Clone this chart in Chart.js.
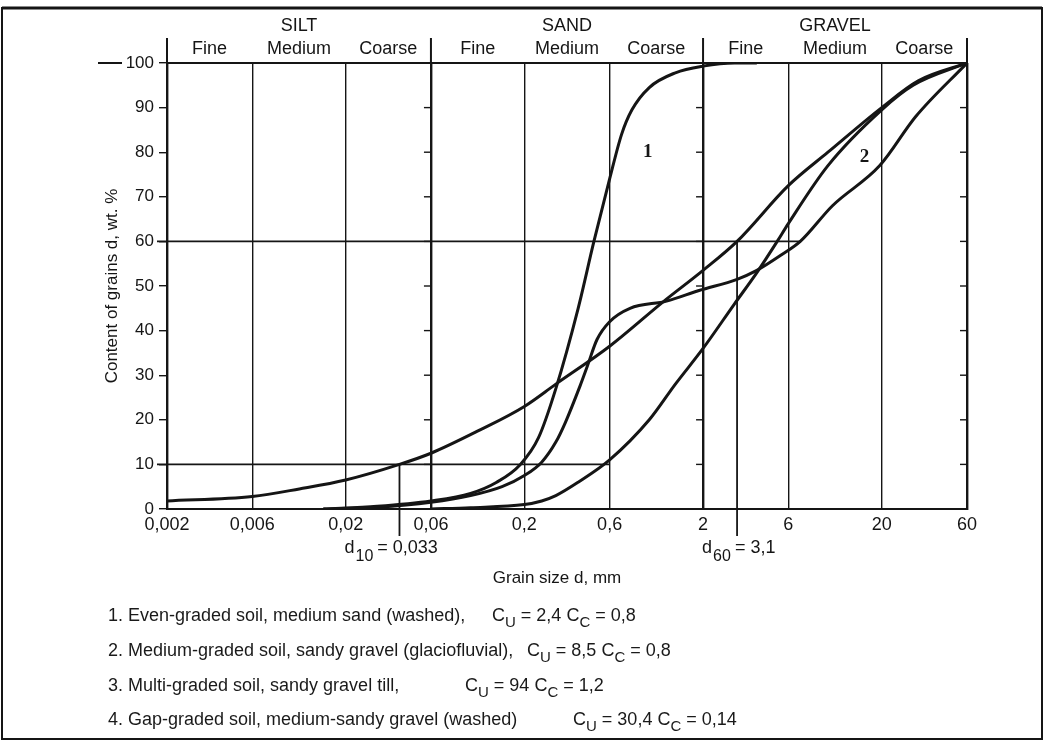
<!DOCTYPE html>
<html>
<head>
<meta charset="utf-8">
<script src="https://cdn.jsdelivr.net/npm/chart.js@4.4.1/dist/chart.umd.min.js"></script>
<style>
  body { margin: 0; background: #fff; }
  .sheet { position: relative; width: 1050px; height: 744px; }
  .notes { position: absolute; left: 0; top: 0; font: 18px 'Liberation Sans', Arial, sans-serif; color: #1a1a1a; }
  .notes div { position: absolute; white-space: nowrap; line-height: 20px; }
  .notes sub { font-size: 15px; vertical-align: -6px; line-height: 0; }
</style>
</head>
<body>
<div class="sheet">
  <canvas id="grading"></canvas>
  <div class="notes" id="notes"></div>
</div>
<script>
// sieve sizes (mm) on the x axis, also the fraction boundaries
const gridSizes = [0.002, 0.006, 0.02, 0.06, 0.2, 0.6, 2, 6, 20, 60];
const mainBounds = [0.002, 0.06, 2, 60];
const soilGroups = ['SILT', 'SAND', 'GRAVEL'];
const fractions = ['Fine', 'Medium', 'Coarse'];
const pctTicks = [0, 10, 20, 30, 40, 50, 60, 70, 80, 90, 100];

// 1. even-graded medium sand
const curve1Size = [0.015, 0.03, 0.06, 0.1, 0.14, 0.19, 0.24, 0.3, 0.4, 0.49, 0.6, 0.7, 0.8, 1, 1.4, 2, 3, 4];
const curve1Pct = [0, 0.6, 1.8, 3.5, 6, 10, 16, 27, 45, 60, 74, 84, 89.5, 94.5, 97.8, 99.3, 100, 100];
// 2. medium-graded sandy gravel
const curve2Size = [0.06, 0.1, 0.2, 0.25, 0.3, 0.4, 0.6, 1, 1.4, 2, 3, 4, 5.2, 6, 10, 20, 30, 60];
const curve2Pct = [0, 0.3, 1, 1.8, 3, 6, 11, 20, 28, 36, 46, 53, 60, 64, 77, 89.5, 95, 100];
// 3. multi-graded till
const curve3Size = [0.002, 0.006, 0.011, 0.02, 0.04, 0.06, 0.11, 0.2, 0.3, 0.6, 1.2, 2, 3.1, 6, 10, 20, 32, 60];
const curve3Pct = [1.8, 2.8, 4.5, 6.5, 10, 12.5, 17.5, 23, 28, 36.5, 46.5, 53.5, 60, 72.5, 80, 90, 96, 100];
// 4. gap-graded medium-sandy gravel
const curve4Size = [0.015, 0.03, 0.06, 0.1, 0.15, 0.2, 0.25, 0.3, 0.34, 0.41, 0.45, 0.51, 0.6, 0.78, 1.25, 1.9, 3.1, 4, 5.5, 7, 10.6, 19.5, 31, 60];
const curve4Pct = [0, 0.4, 1.5, 3, 5, 7.5, 10.5, 15, 19.5, 27.6, 32, 38, 42, 45, 46.6, 49, 51.5, 53.5, 57, 60, 68, 77, 88, 100];

const curveNames = [
  '1.  Even-graded soil, medium sand (washed),',
  '2. Medium-graded soil, sandy gravel (glaciofluvial),',
  '3. Multi-graded soil, sandy gravel till,',
  '4. Gap-graded soil, medium-sandy gravel (washed)'
];
const cuValues = ['2,4', '8,5', '94', '30,4'];
const ccValues = ['0,8', '0,8', '1,2', '0,14'];

// d10 / d60 reading lines of curve 3
const readLevels = [10, 60];
const readSizes = [0.04, 3.1];
const readEnds = [0.6, 7];
const readNames = ['10', '60'];
const readValues = ['0,033', '3,1'];

const curveTags = ['1', '2'];
const curveTagSizes = [0.98, 16];
const curveTagPcts = [80, 79];

const font = "'Liberation Sans', Arial, sans-serif";
const ink = '#151515';

const toPoints = (xs, ys) => xs.map((x, i) => ({ x: x, y: ys[i] }));

const curve = (xs, ys) => ({
  data: toPoints(xs, ys),
  borderColor: ink,
  borderWidth: 3,
  pointRadius: 0,
  fill: false,
  cubicInterpolationMode: 'monotone'
});

function seg(ctx, x1, y1, x2, y2) {
  ctx.beginPath();
  ctx.moveTo(x1, y1);
  ctx.lineTo(x2, y2);
  ctx.stroke();
}

const sheetDecor = {
  id: 'sheetDecor',
  afterDraw(chart) {
    const ctx = chart.ctx;
    const a = chart.chartArea;
    const x = chart.scales.x;
    const y = chart.scales.y;
    ctx.save();
    ctx.strokeStyle = ink;
    ctx.fillStyle = ink;

    // top of the plot and the main boundaries going up into the header
    ctx.lineWidth = 2;
    seg(ctx, a.left, a.top, a.right, a.top);
    seg(ctx, a.left - 69, a.top, a.left - 45, a.top);
    mainBounds.forEach(v => {
      const px = x.getPixelForValue(v);
      seg(ctx, px, a.top, px, a.top - 25);
      if (v === gridSizes[0]) return;
      ctx.lineWidth = 1.4;
      pctTicks.slice(1, -1).forEach(p => {
        const py = y.getPixelForValue(p);
        seg(ctx, px - 7, py, px, py);
      });
      ctx.lineWidth = 2;
    });

    // reading lines
    ctx.lineWidth = 1.8;
    readLevels.forEach((lvl, i) => {
      const py = y.getPixelForValue(lvl);
      const px = x.getPixelForValue(readSizes[i]);
      seg(ctx, a.left - 10, py, x.getPixelForValue(readEnds[i]), py);
      seg(ctx, px, py, px, a.bottom + 27);
    });

    // header labels
    ctx.textAlign = 'center';
    ctx.textBaseline = 'middle';
    ctx.font = '18px ' + font;
    const px = gridSizes.map(v => x.getPixelForValue(v));
    soilGroups.forEach((g, gi) => {
      ctx.fillText(g, (px[gi * 3] + px[gi * 3 + 3]) / 2, 26);
      fractions.forEach((f, fi) => {
        const k = gi * 3 + fi;
        ctx.fillText(f, (px[k] + px[k + 1]) / 2, 49);
      });
    });

    // curve numbers
    ctx.font = 'bold 19px "Liberation Serif", serif';
    curveTags.forEach((t, i) => {
      ctx.fillText(t, x.getPixelForValue(curveTagSizes[i]), y.getPixelForValue(curveTagPcts[i]));
    });

    // d10 / d60 labels
    const shifts = [-55, -35];
    readNames.forEach((n, i) => {
      let cx = x.getPixelForValue(readSizes[i]) + shifts[i];
      const cy = a.bottom + 39;
      ctx.textAlign = 'left';
      ctx.font = '18px ' + font;
      ctx.fillText('d', cx, cy);
      cx += ctx.measureText('d').width + 1;
      ctx.font = '16px ' + font;
      ctx.fillText(n, cx, cy + 9);
      cx += ctx.measureText(n).width + 4;
      ctx.font = '18px ' + font;
      ctx.fillText('= ' + readValues[i], cx, cy);
    });

    // axis titles
    ctx.textAlign = 'center';
    ctx.font = '17px ' + font;
    ctx.fillText('Grain size d, mm', (a.left + a.right) / 2 - 10, a.bottom + 69);
    ctx.save();
    ctx.translate(112, (a.top + a.bottom) / 2);
    ctx.rotate(-Math.PI / 2);
    ctx.fillText('Content of grains d, wt. %', 0, 0);
    ctx.restore();

    // sheet frame
    ctx.lineWidth = 2;
    ctx.strokeRect(2, 8, 1040, 731);
    ctx.lineWidth = 3;
    seg(ctx, 2, 8, 1042, 8);
    ctx.restore();
  }
};

const canvas = document.getElementById('grading');
const chart = new Chart(canvas.getContext('2d'), {
  type: 'line',
  data: {
    datasets: [
      curve(curve1Size, curve1Pct),
      curve(curve2Size, curve2Pct),
      curve(curve3Size, curve3Pct),
      curve(curve4Size, curve4Pct)
    ]
  },
  options: {
    responsive: true,
    maintainAspectRatio: false,
    animation: false,
    layout: { padding: { top: 63, right: 83, left: 0, bottom: 0 } },
    plugins: {
      legend: { display: false },
      tooltip: { enabled: false }
    },
    scales: {
      x: {
        type: 'logarithmic',
        min: 0.002,
        max: 60,
        afterBuildTicks: s => { s.ticks = gridSizes.map(v => ({ value: v })); },
        afterFit: s => { s.height = 235; },
        ticks: {
          autoSkip: false,
          maxRotation: 0,
          padding: 5,
          color: ink,
          font: { family: font, size: 18 },
          callback: v => String(v).replace('.', ',')
        },
        grid: {
          color: ink,
          drawTicks: false,
          lineWidth: c => (c.tick && mainBounds.includes(c.tick.value) ? 2.4 : 1.4)
        },
        border: { color: ink, width: 2 }
      },
      y: {
        min: 0,
        max: 100,
        afterBuildTicks: s => { s.ticks = pctTicks.map(v => ({ value: v })); },
        afterFit: s => { s.width = 167; },
        ticks: {
          padding: 5,
          color: ink,
          font: { family: font, size: 17 }
        },
        grid: { drawOnChartArea: false, tickLength: 8, color: ink, lineWidth: 1.4 },
        border: { color: ink, width: 2 }
      }
    }
  },
  plugins: [sheetDecor]
});

// legend lines with the coefficients
const notes = document.getElementById('notes');
const rowMid = [615, 650, 685, 719];
const cuLeft = [492, 527, 465, 573];
curveNames.forEach((name, i) => {
  const row = document.createElement('div');
  row.style.left = '108px';
  row.style.top = (rowMid[i] - 10) + 'px';
  row.textContent = name;
  notes.appendChild(row);
  const coef = document.createElement('div');
  coef.style.left = cuLeft[i] + 'px';
  coef.style.top = (rowMid[i] - 10) + 'px';
  coef.innerHTML = 'C<sub>U</sub> = ' + cuValues[i] + ' C<sub>C</sub> = ' + ccValues[i];
  notes.appendChild(coef);
});
</script>
</body>
</html>
